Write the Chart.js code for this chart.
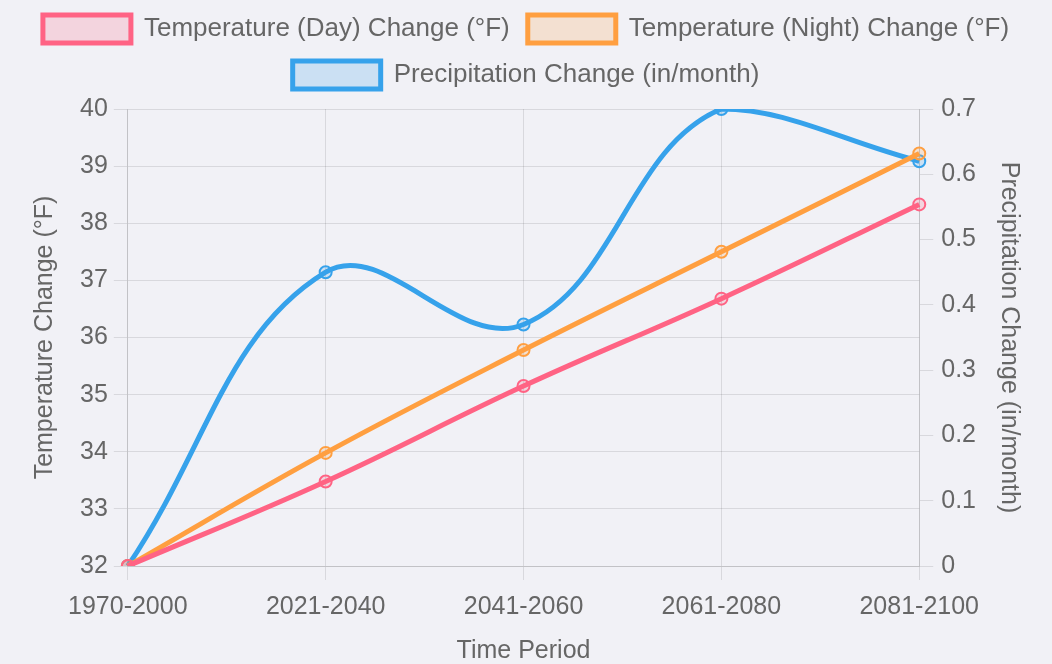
<!DOCTYPE html>
<html>
<head>
<meta charset="utf-8">
<script src="https://cdn.jsdelivr.net/npm/chart.js@4"></script>
<style>
  html, body { margin: 0; padding: 0; background: #f1f1f6; }
  #wrap { width: 1052px; height: 664px; }
</style>
</head>
<body>
<div id="wrap"><canvas id="climateChart" width="1052" height="664"></canvas></div>
<script>
// values
const periods = ['1970-2000', '2021-2040', '2041-2060', '2061-2080', '2081-2100'];
const dayTemp = [32, 33.48, 35.15, 36.68, 38.33];
const nightTemp = [32, 33.98, 35.78, 37.5, 39.22];
const precip = [0, 0.45, 0.37, 0.7, 0.62];

const fontBase = { family: "'Liberation Sans', Arial, sans-serif", size: 25 };
const legendFont = { family: "'Liberation Sans', Arial, sans-serif", size: 26 };
const textColor = '#666';

const bgPlugin = {
    id: 'bg',
    beforeDraw(chart) {
        const ctx = chart.ctx;
        ctx.save();
        ctx.fillStyle = '#f1f1f6';
        ctx.fillRect(0, 0, chart.width, chart.height);
        ctx.restore();
    }
};

// a bit more room under the legend
const legendGap = {
    id: 'legendGap',
    beforeInit(chart) {
        const fit = chart.legend.fit;
        chart.legend.fit = function () {
            fit.call(this);
            this.height += 10;
        };
    }
};

function series(label, data, color, fill, axis) {
    return {
        label: label,
        data: data,
        borderColor: color,
        backgroundColor: fill,
        borderWidth: 5,
        pointRadius: 6,
        pointBorderWidth: 2,
        pointBackgroundColor: fill,
        tension: 0.4,
        fill: false,
        yAxisID: axis
    };
}

new Chart(document.getElementById('climateChart'), {
    type: 'line',
    data: {
        labels: periods,
        datasets: [
            series('Temperature (Day) Change (°F)', dayTemp, 'rgb(255,99,132)', 'rgba(255,99,132,0.2)', 'y'),
            series('Temperature (Night) Change (°F)', nightTemp, 'rgb(255,159,64)', 'rgba(255,159,64,0.2)', 'y'),
            series('Precipitation Change (in/month)', precip, 'rgb(54,162,235)', 'rgba(54,162,235,0.2)', 'y1')
        ]
    },
    plugins: [bgPlugin, legendGap],
    options: {
        responsive: false,
        animation: false,
        layout: { padding: { top: -3, left: 0, right: 0, bottom: 0 } },
        plugins: {
            legend: {
                labels: {
                    color: textColor,
                    font: legendFont,
                    boxWidth: 88,
                    boxHeight: 28,
                    padding: 18
                }
            },
            tooltip: { enabled: false }
        },
        scales: {
            x: {
                title: { display: true, text: 'Time Period', color: textColor, font: { family: fontBase.family, size: 25, lineHeight: 1.0 }, padding: { top: 5, bottom: 0 } },
                ticks: { color: textColor, font: fontBase, maxRotation: 0, padding: 12 },
                grid: { tickLength: 14 }
            },
            y: {
                position: 'left',
                min: 32,
                max: 40,
                title: { display: true, text: 'Temperature Change (°F)', color: textColor, font: fontBase, padding: { top: 30, bottom: 14 } },
                ticks: { color: textColor, font: fontBase, stepSize: 1, padding: 6 },
                grid: { tickLength: 14 }
            },
            y1: {
                position: 'right',
                min: 0,
                max: 0.7,
                title: { display: true, text: 'Precipitation Change (in/month)', color: textColor, font: fontBase, padding: { top: 28, bottom: 10 } },
                ticks: { color: textColor, font: fontBase, stepSize: 0.1, padding: 8 },
                grid: { drawOnChartArea: false, tickLength: 14 }
            }
        }
    }
});
</script>
</body>
</html>
